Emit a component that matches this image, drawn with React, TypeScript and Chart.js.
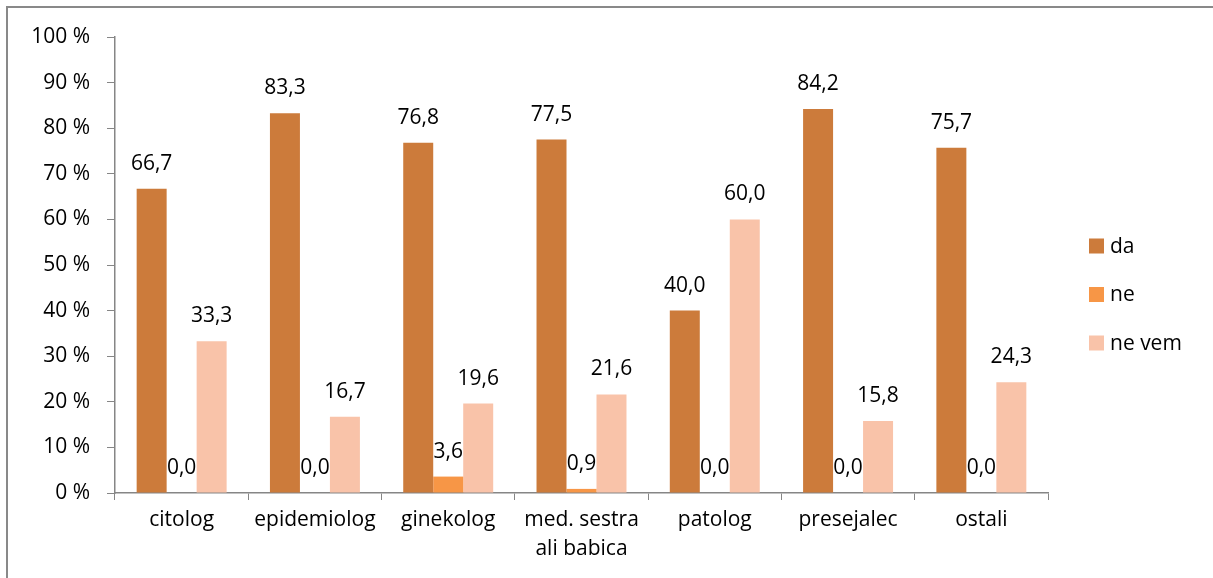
import React, { useEffect, useRef } from "react";
import { Chart, registerables } from "chart.js";

Chart.register(...registerables);

const categories: (string | string[])[] = [
  "citolog",
  "epidemiolog",
  "ginekolog",
  ["med. sestra", "ali babica"],
  "patolog",
  "presejalec",
  "ostali",
];
const daValues = [66.7, 83.3, 76.8, 77.5, 40.0, 84.2, 75.7];
const neValues = [0.0, 0.0, 3.6, 0.9, 0.0, 0.0, 0.0];
const neVemValues = [33.3, 16.7, 19.6, 21.6, 60.0, 15.8, 24.3];
const seriesNames = ["da", "ne", "ne vem"];
const seriesColors = ["#CC7B3B", "#F79646", "#F9C3A9"];
const yTicks = [0, 10, 20, 30, 40, 50, 60, 70, 80, 90, 100];

const FONT = "'Open Sans', sans-serif";
const AXIS = "#868686";

const dataLabelsPlugin = {
  id: "dataLabelsCustom",
  afterDatasetsDraw(chart: any) {
    const ctx = chart.ctx;
    ctx.save();
    ctx.font = `21px ${FONT}`;
    ctx.fillStyle = "#000";
    ctx.textAlign = "center";
    ctx.textBaseline = "middle";
    chart.data.datasets.forEach((ds: any, i: number) => {
      const meta = chart.getDatasetMeta(i);
      meta.data.forEach((el: any, j: number) => {
        const v = ds.data[j] as number;
        ctx.fillText(v.toFixed(1).replace(".", ","), el.x, el.y - 25);
      });
    });
    ctx.restore();
  },
};

const legendPlugin = {
  id: "legendCustom",
  afterDraw(chart: any) {
    const ctx = chart.ctx;
    ctx.save();
    ctx.font = `21px ${FONT}`;
    ctx.textAlign = "left";
    ctx.textBaseline = "middle";
    const boxX = chart.chartArea.right + 41;
    const startY = 246;
    const step = 48.5;
    chart.data.datasets.forEach((ds: any, i: number) => {
      const cy = startY + i * step;
      ctx.fillStyle = ds.backgroundColor;
      ctx.fillRect(boxX, cy - 7.5, 15, 15);
      ctx.fillStyle = "#000";
      ctx.fillText(ds.label, boxX + 21, cy + 1);
    });
    ctx.restore();
  },
};

export default function App() {
  const ref = useRef<HTMLCanvasElement | null>(null);
  useEffect(() => {
    if (!ref.current) return;
    const chart = new Chart(ref.current, {
      type: "bar",
      data: {
        labels: categories,
        datasets: [daValues, neValues, neVemValues].map((d, i) => ({
          label: seriesNames[i],
          data: d,
          backgroundColor: seriesColors[i],
          borderWidth: 0,
          categoryPercentage: 0.675,
          barPercentage: 1,
        })),
      },
      options: {
        responsive: false,
        animation: false,
        layout: { padding: { left: 15, right: 165, top: 37, bottom: 0 } },
        plugins: { legend: { display: false }, tooltip: { enabled: false } },
        scales: {
          x: {
            grid: {
              offset: true,
              drawOnChartArea: false,
              drawTicks: true,
              tickLength: 7,
              color: AXIS,
            },
            border: { color: AXIS, width: 1.5 },
            ticks: {
              color: "#000",
              padding: 6,
              maxRotation: 0,
              autoSkip: false,
              font: { family: FONT, size: 21, lineHeight: 1.35 },
            },
            afterFit(scale: any) {
              scale.height = 85;
            },
          },
          y: {
            min: 0,
            max: 100,
            afterBuildTicks(scale: any) {
              scale.ticks = yTicks.map((v) => ({ value: v }));
            },
            grid: {
              drawOnChartArea: false,
              drawTicks: true,
              tickLength: 8,
              color: AXIS,
            },
            border: { color: AXIS, width: 1.5 },
            ticks: {
              color: "#000",
              padding: 17,
              font: { family: FONT, size: 21 },
              callback: (v: any) => `${v} %`,
            },
            afterFit(scale: any) {
              scale.width = 100;
            },
          },
        },
      },
      plugins: [dataLabelsPlugin, legendPlugin],
    });
    return () => chart.destroy();
  }, []);

  return (
    <div style={{ position: "fixed", left: 0, top: 0, width: 1213, height: 578, background: "#fff" }}>
      <div
        style={{
          position: "absolute",
          left: 6,
          top: 6,
          width: 1213,
          height: 600,
          borderTop: "2px solid #898989",
          borderLeft: "2px solid #898989",
        }}
      />
      <canvas ref={ref} width={1213} height={578} style={{ position: "absolute", left: 0, top: 0 }} />
    </div>
  );
}
